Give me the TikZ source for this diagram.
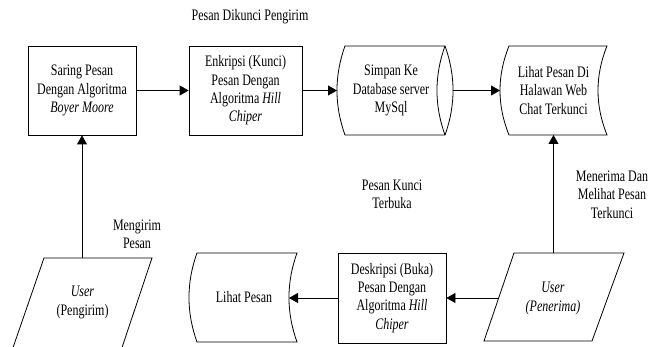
\documentclass[tikz,border=0pt]{standalone}
\usepackage{fontspec}
\setmainfont[FakeStretch=0.75]{Liberation Serif}
\usetikzlibrary{arrows.meta}
\begin{document}
\begin{tikzpicture}[x=1pt,y=1pt,
  line width=0.8pt,
  txt/.style={align=center, font=\fontsize{16}{18.3}\selectfont, inner sep=0pt},
  proc/.style={draw, minimum height=89pt, inner sep=0pt, txt},
  arr/.style={-{Triangle[length=9pt,width=10pt]}},
]
\useasboundingbox (0,0) rectangle (654,347);

% top row
\node[proc, minimum width=108pt] (b1) at (82,256.5) {Saring Pesan\\Dengan Algoritma\\\textit{Boyer Moore}};
\node[proc, minimum width=113pt] (b2) at (245.5,256.5) {Enkripsi (Kunci)\\Pesan Dengan\\Algoritma \textit{Hill}\\\textit{Chiper}};

\node[txt] (db) at (391,256.5) {Simpan Ke\\Database server\\MySql};
\draw (345,301) -- (445,301) .. controls (455.7,271.3) and (455.7,241.7) .. (445,212)
      -- (345,212) .. controls (334.3,241.7) and (334.3,271.3) .. (345,301) -- cycle;
\draw (445,301) .. controls (434.3,271.3) and (434.3,241.7) .. (445,212);
\coordinate (dbW) at (337,256.5);
\coordinate (dbE) at (453,256.5);

\node[txt] (web) at (553.5,256.5) {Lihat Pesan Di\\Halawan Web\\Chat Terkunci};
\draw (509,301) -- (607,301) .. controls (595,271.3) and (595,241.7) .. (607,212)
      -- (509,212) .. controls (497,241.7) and (497,271.3) .. (509,301) -- cycle;
\coordinate (webW) at (500,256.5);
\coordinate (webS) at (553.5,212);

% bottom row
\node[txt] (usr1) at (82.5,44.5) {\textit{User}\\(Pengirim)};
\draw (44,89) -- (152,89) -- (121.7,-1.5) -- (12.7,-1.5) -- cycle;
\coordinate (usr1N) at (82,89);

\node[txt] (lihat) at (244,49.5) {Lihat Pesan};
\draw (197,94) -- (297,94) .. controls (286.3,64.3) and (286.3,34.7) .. (297,5)
      -- (197,5) .. controls (186.3,34.7) and (186.3,64.3) .. (197,94) -- cycle;
\coordinate (lihatE) at (289,49);

\node[proc, minimum width=108pt, minimum height=90pt] (dsk) at (392,49) {Deskripsi (Buka)\\Pesan Dengan\\Algoritma \textit{Hill}\\\textit{Chiper}};

\node[txt] (usr2) at (553,48.5) {\textit{User}\\\textit{(Penerima)}};
\draw (514,94) -- (624,94) -- (592,6) -- (484,6) -- cycle;
\coordinate (usr2N) at (553.5,94);
\coordinate (usr2W) at (498.7,49);

% connectors
\draw[arr] (b1.east) -- (b2.west);
\draw[arr] (b2.east) -- (dbW);
\draw[arr] (dbE) -- (webW);
\draw[arr] (usr1N) -- (b1.south);
\draw[arr] (usr2N) -- (webS);
\draw[arr] (usr2W) -- (dsk.east);
\draw[arr] (dsk.west |- lihatE) -- (lihatE);

% labels
\node[txt] (l1) at (250,330) {Pesan Dikunci Pengirim};
\node[txt] (l2) at (137,112.5) {Mengirim\\Pesan};
\node[txt] (l3) at (392,153) {Pesan Kunci\\Terbuka};
\node[txt] (l4) at (612,152.5) {Menerima Dan\\Melihat Pesan\\Terkunci};
\end{tikzpicture}
\end{document}
